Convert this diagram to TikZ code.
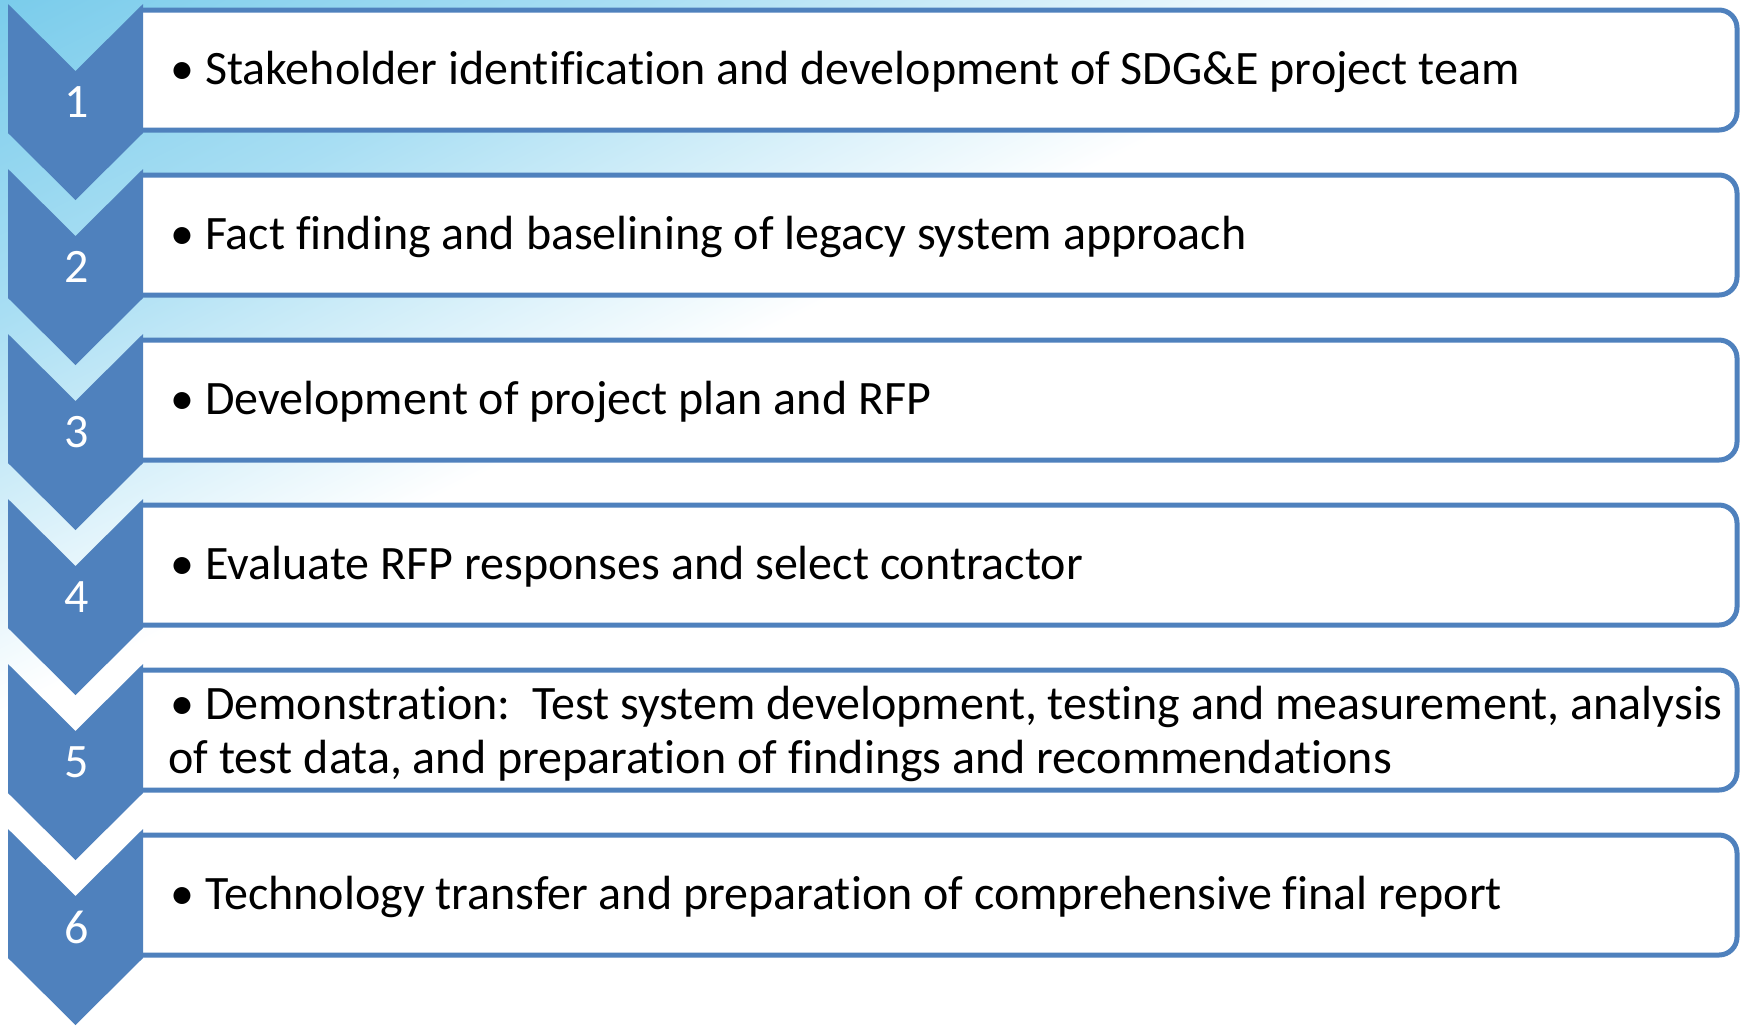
\documentclass[tikz,border=0pt]{standalone}
\usepackage{fontspec}
\setmainfont[Ligatures=NoCommon]{Carlito}
\usetikzlibrary{positioning}

\definecolor{chevblue}{RGB}{79,129,189}
\definecolor{skyA}{RGB}{122,204,235}
\definecolor{skyB}{RGB}{168,222,243}
% light blue corner fading out to white
\pgfdeclarehorizontalshading{skyfade}{100bp}{color(0bp)=(skyA); color(32.14bp)=(skyA); color(38.81bp)=(skyB); color(47.38bp)=(white); color(100bp)=(white)}

\tikzset{
  chevron/.style={fill=chevblue, draw=none},
  stepbox/.style={fill=white, draw=chevblue, line width=2.5pt, rounded corners=9pt},
  stepnum/.style={text=white, font=\fontsize{24}{29}\selectfont, inner sep=0pt},
  steptext/.style={anchor=base west, font=\fontsize{24}{29}\selectfont, inner sep=0pt},
}

\begin{document}
\begin{tikzpicture}[x=0.5pt, y=0.5pt]
  \useasboundingbox (0,0) rectangle (1741,-1025);

  % background
  \begin{scope}
    \clip (0,0) rectangle (1741,-1025);
    \begin{scope}[transform canvas={rotate=-63.43}]
      \shade [shading=skyfade] (-300,-2000) rectangle (1800,2000);
    \end{scope}
  \end{scope}

  % boxes and chevrons
  \foreach \n in {1,...,6} {
    \pgfmathsetmacro{\ct}{4+165*(\n-1)}
    \begin{scope}
      \clip (143,0) rectangle (1741,-1025);   % hide left corners
      \draw [stepbox] (100,-\ct-6) rectangle (1737,-\ct-126);
    \end{scope}
    \fill [chevron] (8,-\ct) -- (75.5,-\ct-67) -- (143,-\ct) -- (143,-\ct-129)
      -- (75.5,-\ct-196) -- (8,-\ct-129) -- cycle;
    \node [stepnum] (num\n) at (76.5,-\ct-98) {\n};
  }

  \node [steptext] (t1) at (170,-84) {\textbullet\ Stakeholder identification and development of SDG\&E project team};
  \node [steptext] (t2) at (170,-249) {\textbullet\ Fact finding and baselining of legacy system approach};
  \node [steptext] (t3) at (170,-414) {\textbullet\ Development of project plan and RFP};
  \node [steptext] (t4) at (170,-579) {\textbullet\ Evaluate RFP responses and select contractor};
  \node [steptext] (t5a) at (170,-719) {\textbullet\ Demonstration:\ \ Test system development, testing and measurement, analysis};
  \node [steptext] (t5b) at (168,-773) {of test data, and preparation of findings and recommendations};
  \node [steptext] (t6) at (170,-909) {\textbullet\ Technology transfer and preparation of comprehensive final report};
\end{tikzpicture}
\end{document}
